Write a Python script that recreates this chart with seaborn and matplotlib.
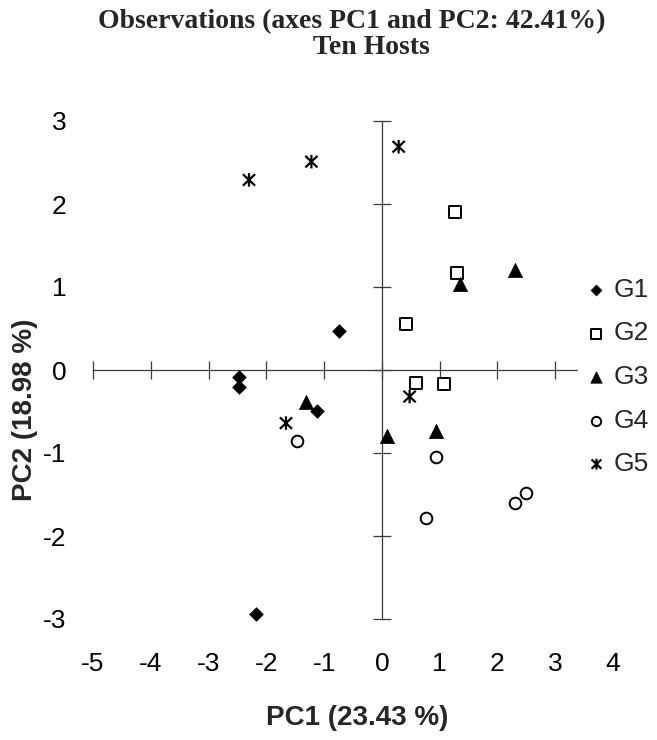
import matplotlib
matplotlib.use("Agg")
import matplotlib.pyplot as plt
from matplotlib.path import Path
import numpy as np
import pandas as pd
import seaborn as sns

# PCA scores of the observations, per group
groups = ["G1", "G2", "G3", "G4", "G5"]
g1_pc1 = [-0.75, -2.47, -2.47, -1.13, -2.18]
g1_pc2 = [0.47, -0.09, -0.20, -0.49, -2.94]
g2_pc1 = [1.26, 1.30, 0.41, 0.59, 1.08]
g2_pc2 = [1.90, 1.17, 0.55, -0.16, -0.17]
g3_pc1 = [2.30, 1.36, 0.09, 0.94, -1.32]
g3_pc2 = [1.20, 1.04, -0.80, -0.74, -0.38]
g4_pc1 = [-1.47, 0.94, 0.77, 2.31, 2.50]
g4_pc2 = [-0.85, -1.05, -1.78, -1.60, -1.48]
g5_pc1 = [-2.30, -1.22, 0.29, -1.66, 0.48]
g5_pc2 = [2.29, 2.51, 2.69, -0.64, -0.32]

x_ticks = [-5, -4, -3, -2, -1, 0, 1, 2, 3, 4]
y_ticks = [-3, -2, -1, 0, 1, 2, 3]

df = pd.concat([
    pd.DataFrame({"PC1": a, "PC2": b, "Group": g})
    for g, a, b in zip(groups,
                       [g1_pc1, g2_pc1, g3_pc1, g4_pc1, g5_pc1],
                       [g1_pc2, g2_pc2, g3_pc2, g4_pc2, g5_pc2])
], ignore_index=True)

sns.set_theme(style="white")
plt.rcParams["font.family"] = ["Liberation Sans", "DejaVu Sans"]

# star marker: an X crossed by a vertical stroke
star = Path(
    [(0, -1), (0, 1), (-0.9, -0.85), (0.9, 0.85), (-0.9, 0.85), (0.9, -0.85)],
    [Path.MOVETO, Path.LINETO, Path.MOVETO, Path.LINETO, Path.MOVETO, Path.LINETO],
)

fig = plt.figure(figsize=(6.57, 7.40), dpi=100)
ax = fig.add_axes([93 / 657, 1 - 619 / 740, 520 / 657, 498 / 740])

marker_styles = {
    "G1": dict(marker="D", s=48, facecolor="black", edgecolor="black", linewidth=0.5),
    "G2": dict(marker="s", s=72, facecolor="white", edgecolor="black", linewidth=1.4),
    "G3": dict(marker="^", s=105, facecolor="black", edgecolor="black", linewidth=0.5),
    "G4": dict(marker="o", s=70, facecolor="white", edgecolor="black", linewidth=1.4),
    "G5": dict(marker=star, s=95, facecolor="none", edgecolor="black", linewidth=1.6),
}

for g in groups:
    sns.scatterplot(data=df[df["Group"] == g], x="PC1", y="PC2", ax=ax,
                    label=g, clip_on=False, zorder=3, **marker_styles[g])

ax.set_xlim(-5, 4)
ax.set_ylim(-3, 3)

# axis lines crossing at the origin
for side in ("top", "right"):
    ax.spines[side].set_visible(False)
for side in ("left", "bottom"):
    ax.spines[side].set_position(("data", 0))
    ax.spines[side].set_color("#3a3a3a")
    ax.spines[side].set_linewidth(0.9)
ax.spines["bottom"].set_bounds(-5, 4)
ax.spines["left"].set_bounds(-3, 3)
ax.set_xticks(x_ticks)
ax.set_yticks(y_ticks)
ax.tick_params(axis="both", direction="inout", length=13, width=0.9,
               color="#3a3a3a", labelbottom=False, labelleft=False,
               bottom=True, left=True)

# tick labels along the outer edges of the plot area
sec_x = ax.secondary_xaxis("bottom")
sec_x.set_xticks(x_ticks)
sec_x.set_xticklabels([str(v) for v in x_ticks])
sec_x.tick_params(length=0, pad=24, labelsize=19, labelcolor="black")
sec_x.spines["bottom"].set_visible(False)

sec_y = ax.secondary_yaxis("left")
sec_y.set_yticks(y_ticks)
sec_y.set_yticklabels([str(v) for v in y_ticks])
sec_y.tick_params(length=0, pad=19, labelsize=19, labelcolor="black")
sec_y.spines["left"].set_visible(False)

ax.set_xlabel("PC1 (23.43 %)", fontsize=20, fontweight="bold")
ax.set_ylabel("PC2 (18.98 %)", fontsize=20, fontweight="bold")
ax.xaxis.set_label_coords(0.508, -0.173)
ax.yaxis.set_label_coords(-0.106, 0.42)

title_font = dict(fontsize=20, fontweight="bold",
                  family=["Liberation Serif", "DejaVu Serif"])
fig.text(0.536, 0.988, "Observations (axes PC1 and PC2: 42.41%)",
         ha="center", va="top", **title_font)
fig.text(0.566, 0.953, "Ten Hosts", ha="center", va="top", **title_font)

leg = ax.legend(loc="center left", bbox_to_anchor=(578 / 657, 1 - 377 / 740),
                bbox_transform=fig.transFigure, frameon=True, framealpha=1,
                facecolor="white", edgecolor="white", fontsize=19,
                markerscale=0.8, handlelength=0.8, handletextpad=0.25,
                labelspacing=0.74, borderpad=0.3, borderaxespad=0)
leg.set_zorder(5)

fig.savefig("out.png", dpi=100)
